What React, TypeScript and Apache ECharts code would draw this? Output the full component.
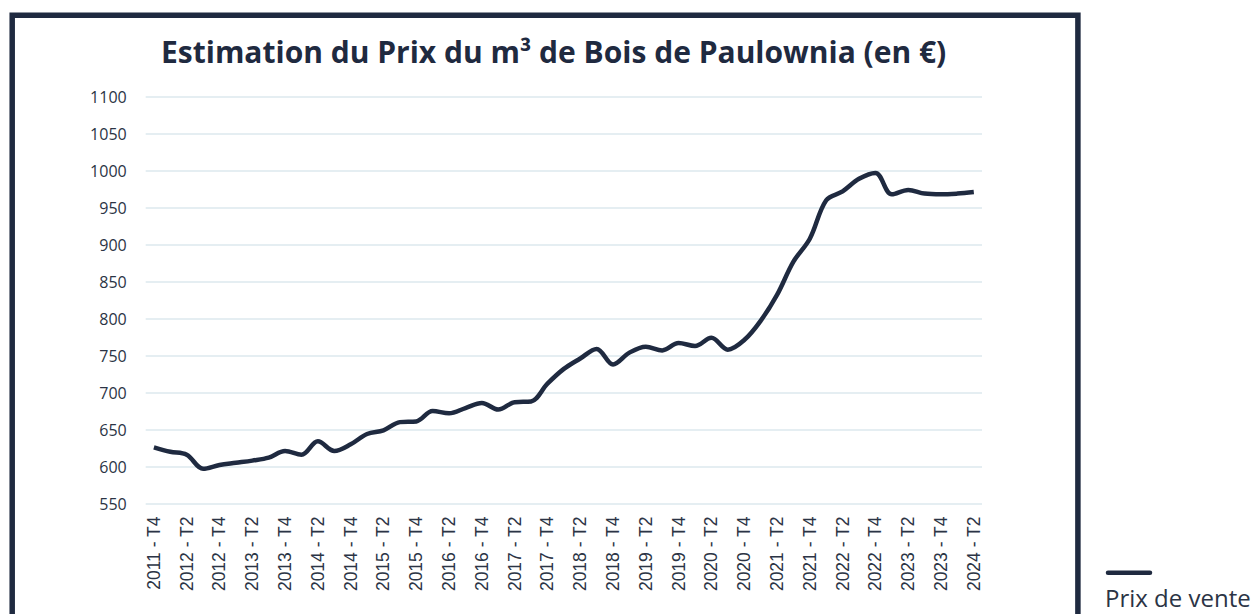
import React, { useEffect, useRef } from "react";
import * as echarts from "echarts";

const categories = [
  "2011 - T4",
  "2012 - T1", "2012 - T2", "2012 - T3", "2012 - T4",
  "2013 - T1", "2013 - T2", "2013 - T3", "2013 - T4",
  "2014 - T1", "2014 - T2", "2014 - T3", "2014 - T4",
  "2015 - T1", "2015 - T2", "2015 - T3", "2015 - T4",
  "2016 - T1", "2016 - T2", "2016 - T3", "2016 - T4",
  "2017 - T1", "2017 - T2", "2017 - T3", "2017 - T4",
  "2018 - T1", "2018 - T2", "2018 - T3", "2018 - T4",
  "2019 - T1", "2019 - T2", "2019 - T3", "2019 - T4",
  "2020 - T1", "2020 - T2", "2020 - T3", "2020 - T4",
  "2021 - T1", "2021 - T2", "2021 - T3", "2021 - T4",
  "2022 - T1", "2022 - T2", "2022 - T3", "2022 - T4",
  "2023 - T1", "2023 - T2", "2023 - T3", "2023 - T4",
  "2024 - T1", "2024 - T2",
];

const prixDeVente = [
  626,
  620, 616, 597, 602,
  605, 608, 612, 621,
  616, 634, 621, 630,
  644, 649, 660, 661,
  675, 672, 679, 686,
  677, 687, 688, 712,
  732, 746, 759, 738,
  754, 762, 757, 767,
  763, 774, 758, 771,
  797, 832, 877, 908,
  960, 972, 989, 997,
  968, 974, 969, 968,
  969, 971,
];

const TITLE = "Estimation du Prix du m³ de Bois de Paulownia (en €)";
const SERIES_NAME = "Prix de vente";
const NAVY = "#1f2a40";

export default function App() {
  const ref = useRef<HTMLDivElement>(null);

  useEffect(() => {
    if (!ref.current) return;
    const chart = echarts.init(ref.current, undefined, { renderer: "svg" });
    chart.setOption({
      animation: false,
      backgroundColor: "#ffffff",
      title: {
        text: TITLE,
        left: 156,
        top: 31,
        textStyle: {
          fontFamily: "Open Sans",
          fontWeight: "bold",
          fontSize: 30,
          color: NAVY,
        },
      },
      legend: { show: false },
      grid: {
        left: 145.7,
        right: 276,
        top: 96.7,
        bottom: 110.5,
        containLabel: false,
      },
      xAxis: {
        type: "category",
        data: categories,
        boundaryGap: true,
        axisLine: { show: false },
        axisTick: { show: false },
        axisLabel: {
          interval: 1,
          rotate: 90,
          margin: 13,
          fontSize: 17.5,
          fontFamily: "Liberation Sans",
          color: "#2b3445",
        },
      },
      yAxis: {
        type: "value",
        min: 550,
        max: 1100,
        interval: 50,
        axisLine: { show: false },
        axisTick: { show: false },
        axisLabel: {
          margin: 19,
          fontSize: 16,
          fontFamily: "Open Sans",
          color: "#2b3445",
          formatter: (v: number) => String(v),
        },
        splitLine: { lineStyle: { color: "#dde8ee", width: 1.5 } },
      },
      series: [
        {
          name: SERIES_NAME,
          type: "line",
          data: prixDeVente,
          smooth: 0.35,
          symbol: "none",
          lineStyle: { color: NAVY, width: 4.5 },
          itemStyle: { color: NAVY },
        },
      ],
      graphic: [
        {
          type: "rect",
          shape: { x: 12.2, y: 15.3, width: 1065.7, height: 700 },
          style: { fill: "none", stroke: NAVY, lineWidth: 5.5 },
          silent: true,
        },
        {
          type: "line",
          shape: { x1: 1108, y1: 572.7, x2: 1150, y2: 572.7 },
          style: { stroke: NAVY, lineWidth: 4.5, lineCap: "round" },
        },
        {
          type: "text",
          x: 1105,
          y: 597,
          style: {
            text: SERIES_NAME,
            fontFamily: "Open Sans",
            fontSize: 24,
            fill: "#2b3445",
            textVerticalAlign: "middle",
          },
        },
      ],
    });
    return () => chart.dispose();
  }, []);

  return (
    <div
      ref={ref}
      style={{ position: "fixed", left: 0, top: 0, width: 1258, height: 614 }}
    />
  );
}
